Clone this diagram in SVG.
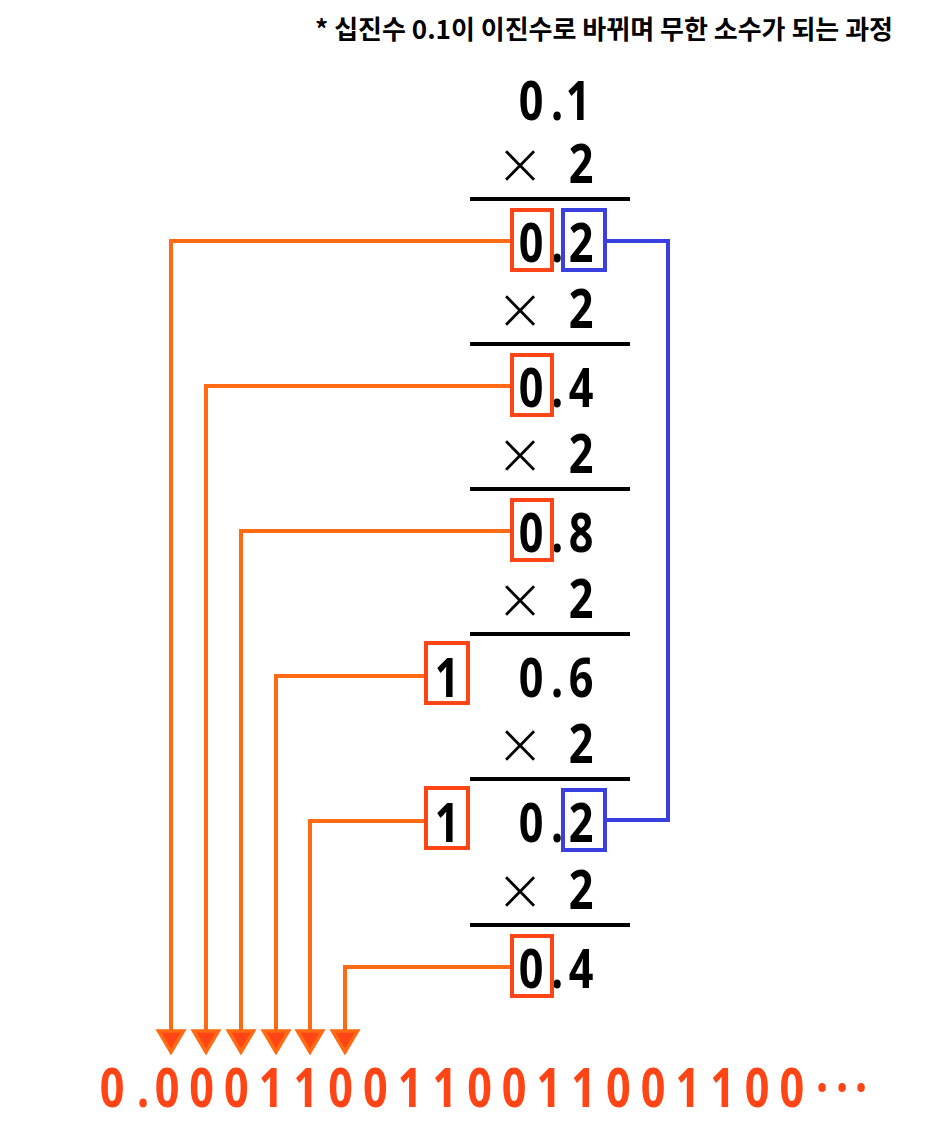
<svg xmlns="http://www.w3.org/2000/svg" width="926" height="1148" viewBox="0 0 926 1148">
<style>
.num{font-family:"Noto Sans","Noto Sans CJK KR",sans-serif;font-weight:700;font-size:54px;fill:#000;text-anchor:middle}
.times{font-family:"DejaVu Sans",sans-serif;font-weight:200;font-size:58px;fill:#000;text-anchor:middle}
.bar{stroke:#000;stroke-width:4}
.rbox{fill:none;stroke:#FF4515;stroke-width:4}
.bbox{fill:none;stroke:#3A3FE0;stroke-width:4}
.oc{fill:none;stroke:#FF6A13;stroke-width:4}
.bc{fill:none;stroke:#3A3FE0;stroke-width:4}
.res{font-family:"Noto Sans","Noto Sans CJK KR",sans-serif;font-weight:700;font-size:54px;fill:#FF4515;text-anchor:middle}
.title{font-family:"Noto Sans CJK KR","Noto Sans",sans-serif;font-weight:700;font-size:26px;fill:#000;text-anchor:end}
</style>
<defs>
<marker id="arr" markerUnits="userSpaceOnUse" viewBox="-16 -26 32 30" refX="0" refY="0" markerWidth="32" markerHeight="30" orient="0" overflow="visible">
<path d="M-12.5,-21 L12.5,-21 L0,0 Z" fill="#FF4515" stroke="#FF6A13" stroke-width="3.5" stroke-linejoin="miter"/>
</marker>
</defs>
<rect width="926" height="1148" fill="#fff"/>
<text id="title" class="title" x="893" y="39">* 십진수 0.1이 이진수로 바뀌며 무한 소수가 되는 과정</text>

<g id="connectors">
<path class="oc" d="M510,241 H171 V1052" marker-end="url(#arr)"/>
<path class="oc" d="M510,386 H206 V1052" marker-end="url(#arr)"/>
<path class="oc" d="M510,531 H241 V1052" marker-end="url(#arr)"/>
<path class="oc" d="M424,676 H276 V1052" marker-end="url(#arr)"/>
<path class="oc" d="M424,821 H310 V1052" marker-end="url(#arr)"/>
<path class="oc" d="M510,967 H345 V1052" marker-end="url(#arr)"/>
<path class="bc" d="M607,241 H668 V820 H607"/>
</g>

<g id="start">
<text class="num" transform="scale(0.8,1)" x="663.75 696.25 722.5" y="120">0.1</text>
</g>

<g id="step1">
<text class="times" x="520" y="184">×</text>
<text class="num" transform="scale(0.8,1)" x="726.25" y="183">2</text>
<line class="bar" x1="470" y1="199" x2="630" y2="199"/>
<text class="num" transform="scale(0.8,1)" x="663.75 696.25 726.25" y="262">0.2</text>
<rect class="rbox" x="512" y="210" width="40" height="60"/>
<rect class="bbox" x="563" y="210" width="42" height="60"/>
</g>

<g id="step2">
<text class="times" x="520" y="329">×</text>
<text class="num" transform="scale(0.8,1)" x="726.25" y="328">2</text>
<line class="bar" x1="470" y1="344" x2="630" y2="344"/>
<text class="num" transform="scale(0.8,1)" x="663.75 696.25 726.25" y="407">0.4</text>
<rect class="rbox" x="512" y="355" width="40" height="60"/>
</g>

<g id="step3">
<text class="times" x="520" y="474">×</text>
<text class="num" transform="scale(0.8,1)" x="726.25" y="473">2</text>
<line class="bar" x1="470" y1="489" x2="630" y2="489"/>
<text class="num" transform="scale(0.8,1)" x="663.75 696.25 726.25" y="552">0.8</text>
<rect class="rbox" x="512" y="500" width="40" height="60"/>
</g>

<g id="step4">
<text class="times" x="520" y="619">×</text>
<text class="num" transform="scale(0.8,1)" x="726.25" y="618">2</text>
<line class="bar" x1="470" y1="634" x2="630" y2="634"/>
<text class="num" transform="scale(0.8,1)" x="558.75" y="697">1</text>
<text class="num" transform="scale(0.8,1)" x="663.75 696.25 726.25" y="697">0.6</text>
<rect class="rbox" x="426" y="643" width="42" height="60"/>
</g>

<g id="step5">
<text class="times" x="520" y="764">×</text>
<text class="num" transform="scale(0.8,1)" x="726.25" y="763">2</text>
<line class="bar" x1="470" y1="779" x2="630" y2="779"/>
<text class="num" transform="scale(0.8,1)" x="558.75" y="842">1</text>
<text class="num" transform="scale(0.8,1)" x="663.75 696.25 726.25" y="842">0.2</text>
<rect class="rbox" x="426" y="788" width="42" height="60"/>
<rect class="bbox" x="563" y="790" width="42" height="60"/>
</g>

<g id="step6">
<text class="times" x="520" y="910">×</text>
<text class="num" transform="scale(0.8,1)" x="726.25" y="909">2</text>
<line class="bar" x1="470" y1="925" x2="630" y2="925"/>
<text class="num" transform="scale(0.8,1)" x="663.75 696.25 726.25" y="988">0.4</text>
<rect class="rbox" x="512" y="936" width="40" height="60"/>
</g>

<g id="result">
<text class="res" transform="scale(0.8,1)" x="140 178.75 208.75 252.15 295.55 338.95 382.35 425.75 469.15 512.55 555.95 599.35 642.75 686.15 729.55 772.95 816.35 859.75 903.15 946.55 989.95 1027.5 1052.5 1076.25" y="1107">0.0001100110011001100···</text>
</g>
</svg>
